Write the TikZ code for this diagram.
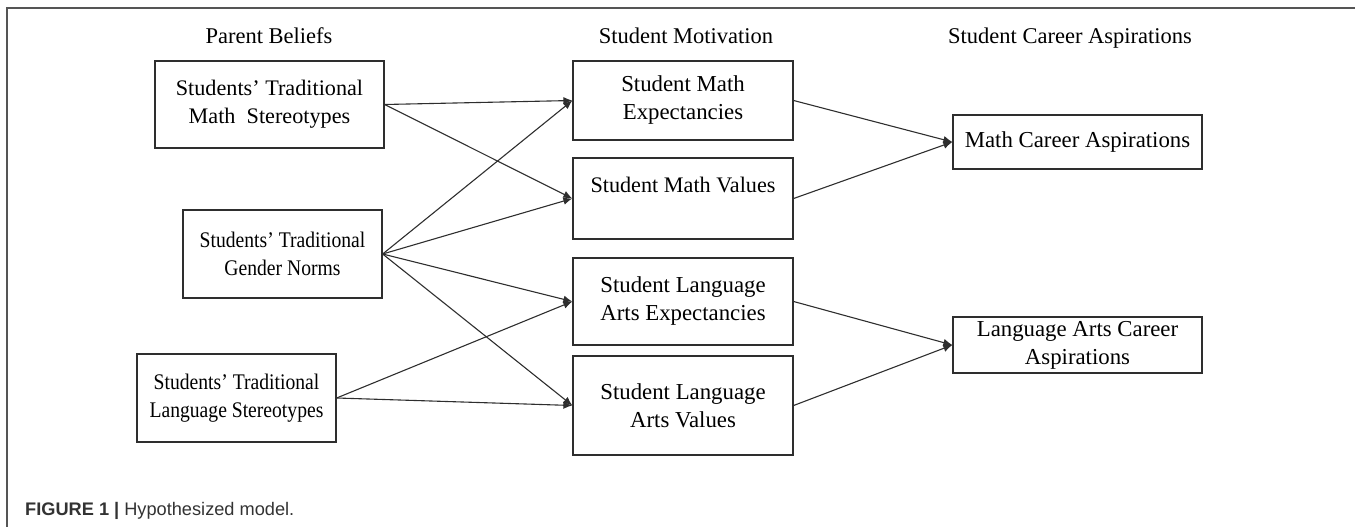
\documentclass[tikz,border=0pt]{standalone}
\usepackage{fontspec}
\setmainfont{Liberation Serif}
\newfontfamily\condfont[FakeStretch=0.88]{Liberation Serif}
\newfontfamily\capfont{Liberation Sans}
\usetikzlibrary{arrows.meta}
\definecolor{linec}{HTML}{2E2E2E}
\definecolor{framec}{HTML}{555555}
\definecolor{capc}{HTML}{333333}
\begin{document}
\begin{tikzpicture}[x=1pt,y=-1pt,
  box/.style={draw=linec, line width=1.3pt, rectangle, align=center, inner sep=0pt,
    font=\fontsize{22.8}{28}\selectfont, text=black},
  leftbox/.style={box, font=\condfont\fontsize{22.3}{28}\selectfont},
  head/.style={anchor=base, font=\fontsize{22.5}{28}\selectfont, inner sep=0pt},
  conn/.style={draw=linec, line width=1.1pt, -{Latex[length=9pt,width=7.5pt]}}]
\useasboundingbox (0,0) rectangle (1355,527);
% frame
\draw[framec, line width=1.5pt] (1355,8) -- (7,8) -- (7,527);
% headers
\node[head] (h1) at (269,44) {Parent Beliefs};
\node[head] (h2) at (686,44) {Student Motivation};
\node[head] (h3) at (1070,44) {Student Career Aspirations};
% left column
\node[box, font=\fontsize{22.2}{28}\selectfont, minimum width=229pt, minimum height=87pt] (b1) at (269.5,104.5) {Students’ Traditional\\Math\hspace{0.5em}Stereotypes};
\node[leftbox, minimum width=199pt, minimum height=88pt] (b2) at (282.5,254) {Students’ Traditional\\Gender Norms};
\node[leftbox, minimum width=199pt, minimum height=88pt] (b3) at (236.5,398) {Students’ Traditional\\Language Stereotypes};
% middle column
\node[box, minimum width=220pt, minimum height=79pt] (m1) at (683,100.5) {Student Math\\Expectancies};
\node[box, font=\fontsize{22.2}{28}\selectfont, minimum width=220pt, minimum height=81pt] (m2) at (683,198.5) {Student Math Values\\\mbox{}};
\node[box, minimum width=220pt, minimum height=87pt] (m3) at (683,301.5) {Student Language\\Arts Expectancies};
\node[box, minimum width=220pt, minimum height=99pt] (m4) at (683,405.5) {Student Language\\Arts Values};
% right column
\node[box, minimum width=249pt, minimum height=54pt] (mc) at (1077.5,142) {Math Career Aspirations};
\node[box, minimum width=249pt, minimum height=56pt] (lc) at (1077.5,345) {Language Arts Career\\Aspirations};
% connectors
\draw[conn] (b1.east) -- (m1.west);
\draw[conn] (b1.east) -- (m2.west);
\draw[conn] (b2.east) -- (m1.west);
\draw[conn] (b2.east) -- (m2.west);
\draw[conn] (b2.east) -- (m3.west);
\draw[conn] (b2.east) -- (m4.west);
\draw[conn] (b3.east) -- (m3.west);
\draw[conn] (b3.east) -- (m4.west);
\draw[conn] (m1.east) -- (mc.west);
\draw[conn] (m2.east) -- (mc.west);
\draw[conn] (m3.east) -- (lc.west);
\draw[conn] (m4.east) -- (lc.west);
% caption
\node[anchor=base west, inner sep=0pt, text=capc, font=\capfont\fontsize{18.2}{21}\selectfont] (cap) at (25,515) {\textbf{FIGURE 1 | }Hypothesized model.};
\end{tikzpicture}
\end{document}
